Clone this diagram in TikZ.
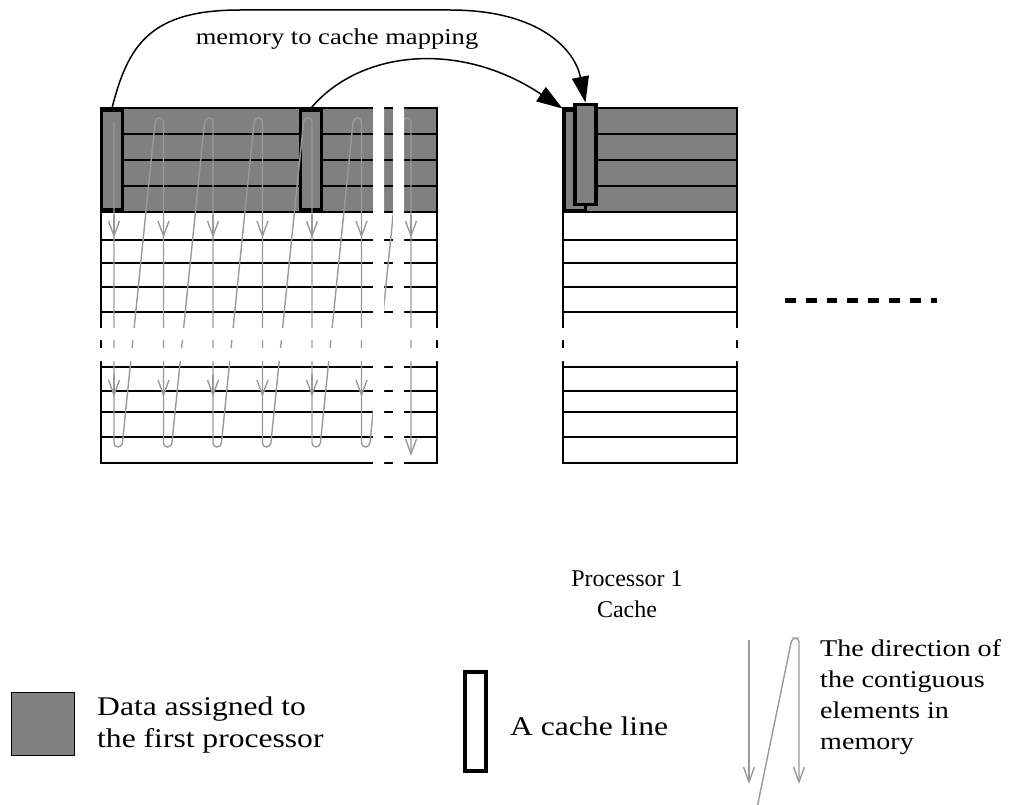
\documentclass[tikz,border=0pt]{standalone}
\usepackage{fontspec}
\setmainfont{Liberation Serif}
\newfontfamily\widefont[FakeStretch=1.17]{Liberation Serif}
\usetikzlibrary{arrows.meta}

\begin{document}
\begin{tikzpicture}[
  x=1pt, y=-1pt,
  every node/.style={inner sep=0pt},
  data/.style={fill=black!50},
  grid/.style={line width=1.5pt},
  cutout/.style={fill=white},
  cacheline/.style={draw, line width=3.8pt, fill=black!50, minimum width=21pt, minimum height=100pt},
  flow/.style={draw=black!40, line width=1.4pt, rounded corners=4pt},
  barb/.style={-{Straight Barb[length=15pt,width=11pt]}},
  mapping/.style={draw, line width=1.5pt, -{Triangle[length=26pt,width=17pt]}},
  keytext/.style={anchor=west, align=left, font=\widefont\fontsize{27}{32}\selectfont}
]
\useasboundingbox (0,0) rectangle (1035,805);

\fill[data] (101,108) rectangle (437,212);
\foreach \y in {108,134,160,186,212,240,263,287,312,367,391,412,437,463}
  \draw[grid] (101,\y) -- (437,\y);
\draw[grid] (101,107.25) -- (101,463.75) (437,107.25) -- (437,463.75);
\node[cacheline] (mem1) at (112,160) {};
\node[cacheline] (mem2) at (311,160) {};
\draw[flow, barb] (114,122)
  \foreach \x in {114,163.5,213,262.5,312,361.5} { -- (\x,447) -- (\x+8,447) -- (\x+41.5,118) -- (\x+49.5,118) }
  -- (411,456);
\foreach \x in {114,163.5,213,262.5,312,361.5,411}
  \draw[flow, barb] (\x,215) -- (\x,238);
\foreach \x in {114,163.5,213,262.5,312,361.5}
  \draw[flow, barb] (\x,375) -- (\x,397);
\fill[cutout] (373,104) rectangle (384,467) (393,104) rectangle (404,467);
\fill[cutout] (95,328) rectangle (443,340) (95,348) rectangle (443,361);

\fill[data] (563,108) rectangle (737,212);
\foreach \y in {108,134,160,186,212,240,263,287,312,367,391,412,437,463}
  \draw[grid] (563,\y) -- (737,\y);
\draw[grid] (563,107.25) -- (563,463.75) (737,107.25) -- (737,463.75);
\fill[cutout] (557,328) rectangle (743,340) (557,348) rectangle (743,361);
\node[cacheline] (cache1) at (575,160.5) {};
\node[cacheline] (cache2) at (585.5,154.5) {};

\draw[mapping] (mem1.north) .. controls (128,45) and (150,10) .. (240,10) -- (450,10)
  .. controls (540,10) and (575,50) .. (cache2.north);
\draw[mapping] (mem2.north) .. controls (360,50) and (460,40) .. (cache1.north west);
\node[font=\widefont\fontsize{22.7}{26}\selectfont] (maplabel) at (337,39) {memory to cache mapping};

\node[align=center, font=\fontsize{24}{31}\selectfont] (proc) at (627,594) {Processor 1\\Cache};
\draw[line width=5pt, dash pattern=on 10.7pt off 10.1pt] (785,300) -- (937,300);

\node[draw, line width=1pt, fill=black!50, minimum size=63pt] (keydata) at (42.5,724) {};
\node[keytext] (keydatatext) at (97,725) {Data assigned to\\the first processor};
\node[draw, line width=3.8pt, fill=white, minimum width=21pt, minimum height=99pt] (keyline) at (475.5,721.5) {};
\node[keytext] (keylinetext) at (510,726) {A cache line};
\draw[flow, barb] (749,640) -- (749,784);
\draw[flow, barb] (757,808) -- (792,638) -- (799,638) -- (799,784);
\node[keytext, font=\widefont\fontsize{24}{31}\selectfont] (keyflowtext) at (820,697) {The direction of\\the contiguous\\elements in\\memory};
\end{tikzpicture}
\end{document}
